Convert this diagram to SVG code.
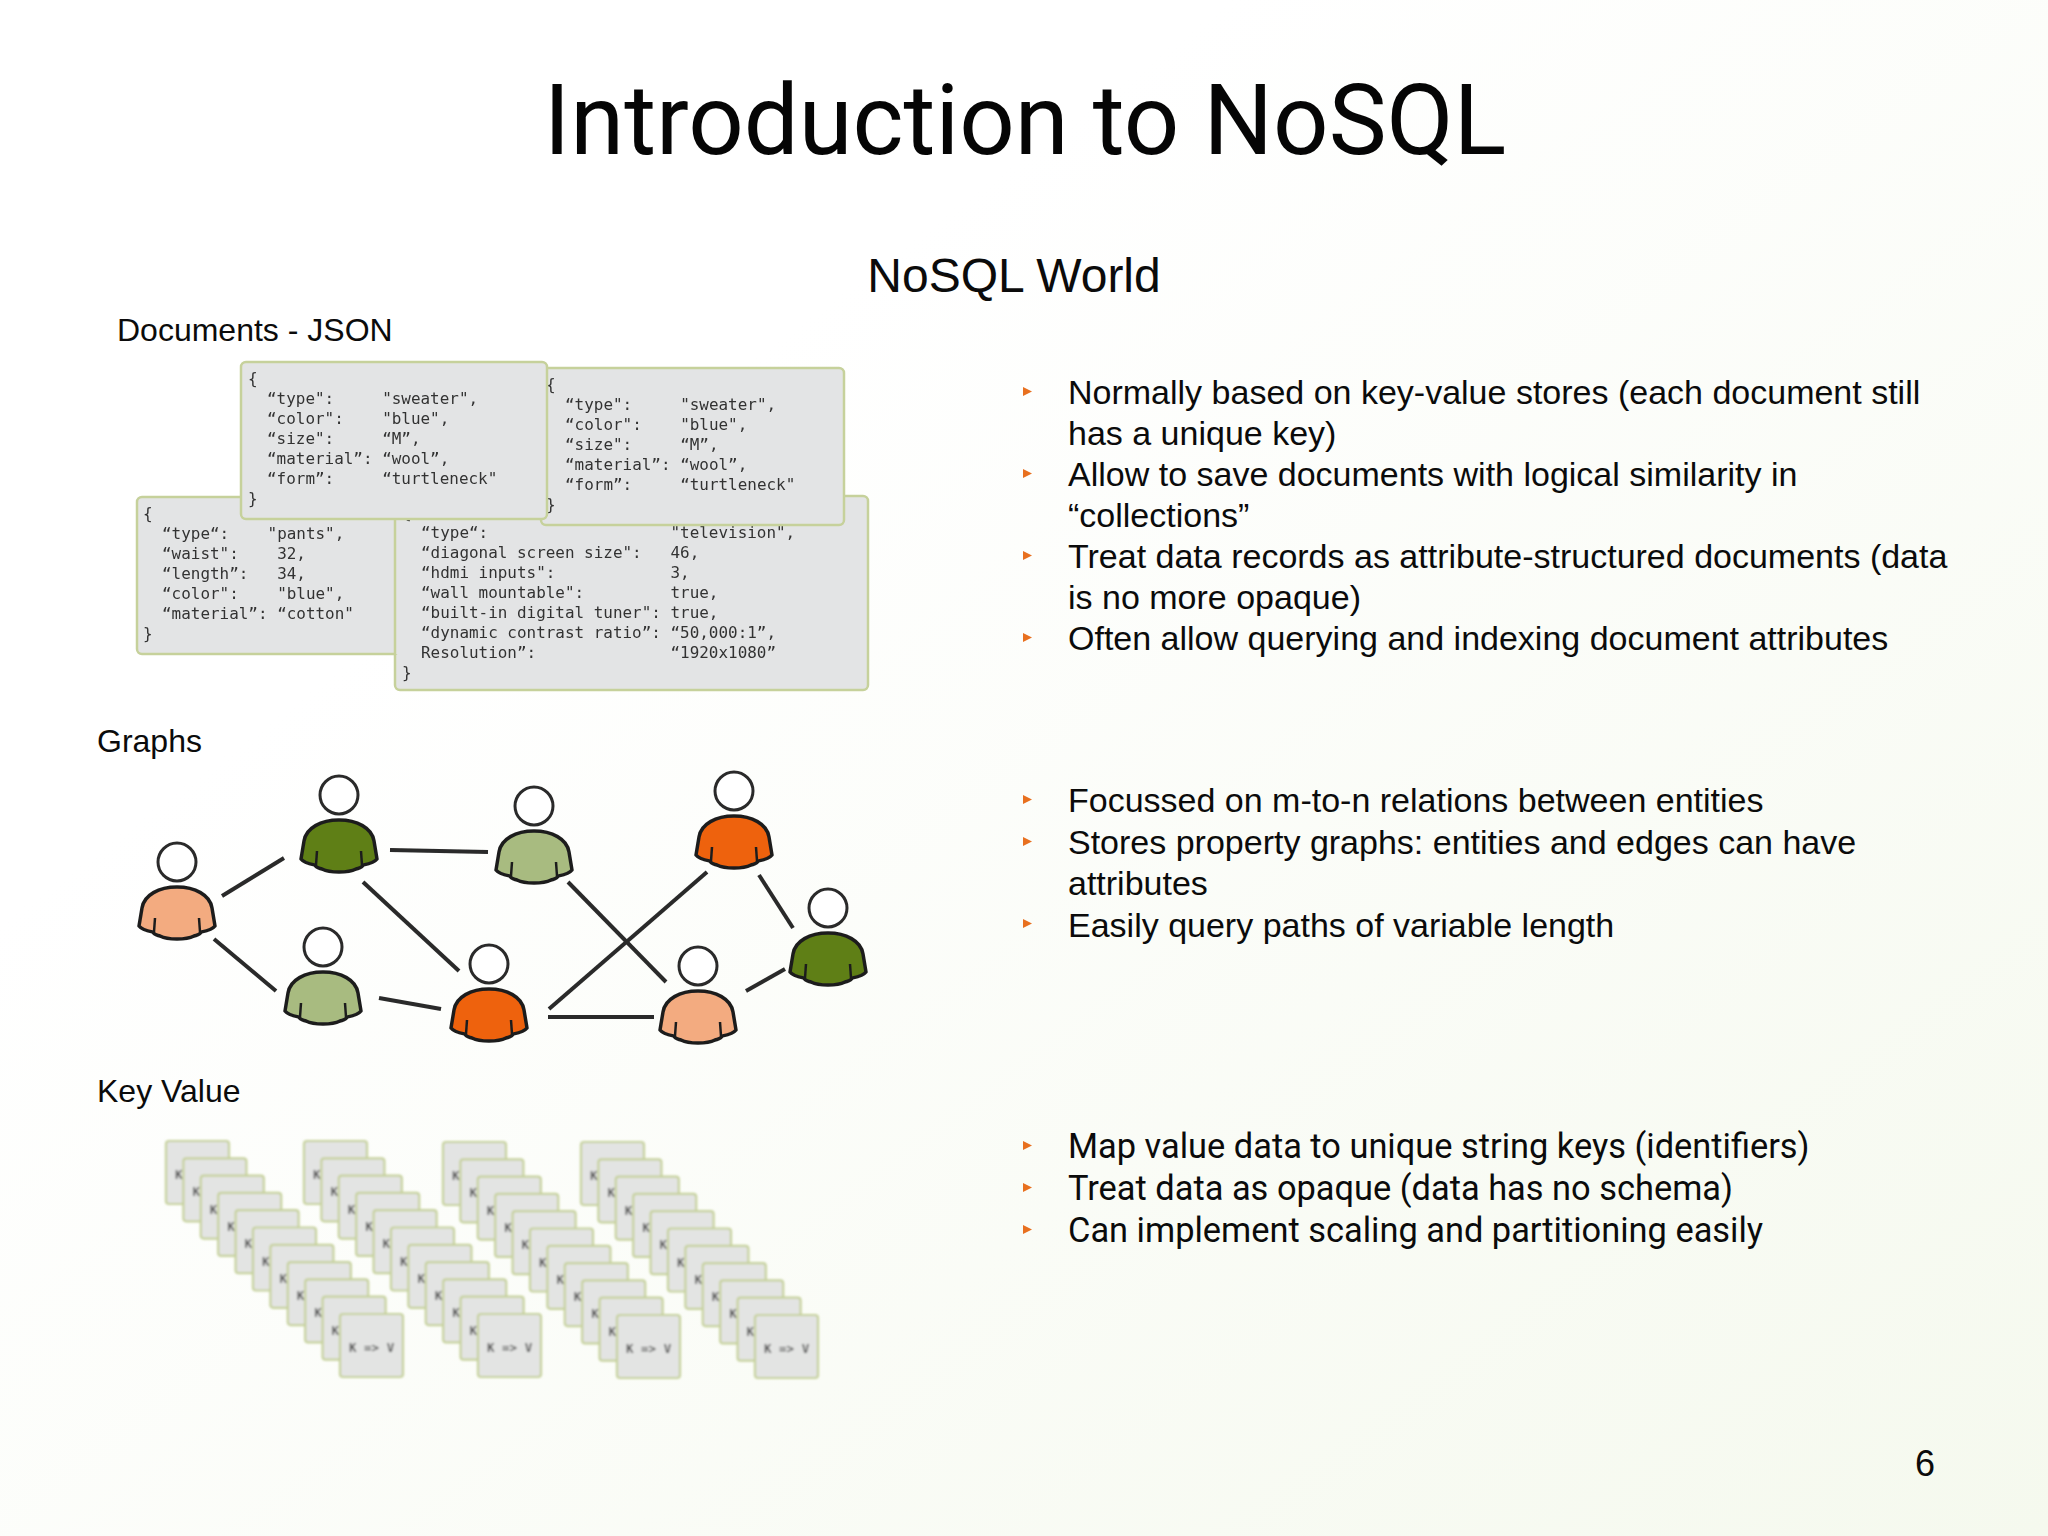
<svg xmlns="http://www.w3.org/2000/svg" width="2048" height="1536" viewBox="0 0 2048 1536">
<style>
.s{font-family:"Liberation Sans",Arial,sans-serif;fill:#0b0b0b}
.b{font-size:34px}
.r{font-family:Roboto,sans-serif;font-size:34.4px;fill:#0b0b0b}
.l{font-size:32px}
.m{font-family:"DejaVu Sans Mono","Liberation Mono",monospace;font-size:15.95px;fill:#333;white-space:pre}
.card{fill:#e3e4e5;stroke:#c6d19b;stroke-width:2.5}
.kv{fill:#e3e4e3;stroke:#c6d19b;stroke-width:2.2}
.kt{font-family:"DejaVu Sans Mono",monospace;font-size:12.5px;font-weight:bold;fill:#555;white-space:pre}
.bul{fill:#e8701f}
.hd{fill:#fff;stroke:#2b2b2b;stroke-width:3}
.sh{stroke:#1f1f1f;stroke-width:3.5;stroke-linejoin:round}
.fold{fill:none;stroke:#1f1f1f;stroke-width:2.5}
.dg{fill:#5f7f14}.lg{fill:#a8bb80}.or{fill:#ee620f}.pe{fill:#f3ab80}
#connectors line{stroke:#2a2a2a;stroke-width:4;stroke-linecap:butt}
</style>
<defs>
<linearGradient id="bg" x1="0" y1="0" x2="1" y2="1">
<stop offset="0.3" stop-color="#ffffff"/><stop offset="1" stop-color="#f5f9ee"/>
</linearGradient>
<filter id="soft" x="-5%" y="-5%" width="110%" height="110%"><feGaussianBlur stdDeviation="0.6"/></filter>
<filter id="softer" x="-5%" y="-5%" width="110%" height="110%"><feGaussianBlur stdDeviation="0.9"/></filter>
<path id="shirt" d="M-38,64C-37,58-36,52-35,46C-33,33-18,25 0,25C18,25 33,33 35,46C36,52 37,58 38,64C35,68 29,69 24,70C23,73 20,73 17,74C11,77 5,77 0,77C-5,77-11,77-17,74C-20,73-23,73-24,70C-29,69-35,68-38,64Z"/>
<path id="folds" d="M-23,70L-22,56M23,70L22,56"/>
<polygon id="tri" points="0,0 9,4.5 0,9"/>
<g id="kc"><rect class="kv" width="63" height="63" rx="3"/><text class="kt" x="9" y="38">K =&gt; V</text></g>
<g id="stack">
<use href="#kc" x="0" y="0"/><use href="#kc" x="17.4" y="17.3"/><use href="#kc" x="34.8" y="34.6"/><use href="#kc" x="52.2" y="51.9"/><use href="#kc" x="69.6" y="69.2"/><use href="#kc" x="87" y="86.5"/><use href="#kc" x="104.4" y="103.8"/><use href="#kc" x="121.8" y="121.1"/><use href="#kc" x="139.2" y="138.4"/><use href="#kc" x="156.6" y="155.7"/><use href="#kc" x="174" y="173"/>
</g>
</defs>
<rect width="2048" height="1536" fill="url(#bg)"/>
<text id="title" x="1025" y="154" text-anchor="middle" style="font-family:Roboto,sans-serif;font-size:97.5px;fill:#050505">Introduction to NoSQL</text>
<text id="subtitle" class="s" x="1014" y="292" text-anchor="middle" font-size="48">NoSQL World</text>
<text class="s l" x="117" y="341">Documents - JSON</text>
<text class="s l" x="97" y="752">Graphs</text>
<text class="s l" x="97" y="1102">Key Value</text>
<g id="documents" filter="url(#soft)">
<g id="doc-tv"><rect class="card" x="395" y="496" width="473" height="194" rx="5"/>
<text class="m" x="402" y="518">{</text>
<text class="m" x="421" y="538">“type“:                   "television",</text>
<text class="m" x="421" y="558">“diagonal screen size":   46,</text>
<text class="m" x="421" y="578">“hdmi inputs":            3,</text>
<text class="m" x="421" y="598">“wall mountable":         true,</text>
<text class="m" x="421" y="618">“built-in digital tuner": true,</text>
<text class="m" x="421" y="638">“dynamic contrast ratio”: “50,000:1”,</text>
<text class="m" x="421" y="658">Resolution”:              “1920x1080”</text>
<text class="m" x="402" y="678">}</text></g>
<g id="doc-pants"><rect class="card" x="137" y="497" width="262" height="157" rx="5"/>
<text class="m" x="143" y="519">{</text>
<text class="m" x="162" y="539">“type“:    "pants",</text>
<text class="m" x="162" y="559">“waist":    32,</text>
<text class="m" x="162" y="579">“length”:   34,</text>
<text class="m" x="162" y="599">“color":    "blue",</text>
<text class="m" x="162" y="619">“material”: “cotton"</text>
<text class="m" x="143" y="639">}</text></g>
<rect x="395" y="496" width="8" height="158" fill="#e3e4e5"/>
<line x1="395" y1="519" x2="395" y2="654" stroke="#c6d19b" stroke-width="2.5"/>
<g id="doc-sweater-2"><rect class="card" x="541" y="368" width="303" height="157" rx="5"/>
<text class="m" x="546" y="390">{</text>
<text class="m" x="565" y="410">“type":     "sweater",</text>
<text class="m" x="565" y="430">“color":    "blue",</text>
<text class="m" x="565" y="450">“size":     “M”,</text>
<text class="m" x="565" y="470">“material”: “wool”,</text>
<text class="m" x="565" y="490">“form”:     “turtleneck"</text>
<text class="m" x="546" y="510">}</text></g>
<g id="doc-sweater-1"><rect class="card" x="241" y="362" width="306" height="157" rx="5"/>
<text class="m" x="248" y="384">{</text>
<text class="m" x="267" y="404">“type":     "sweater",</text>
<text class="m" x="267" y="424">“color":    "blue",</text>
<text class="m" x="267" y="444">“size":     “M”,</text>
<text class="m" x="267" y="464">“material”: “wool”,</text>
<text class="m" x="267" y="484">“form”:     “turtleneck"</text>
<text class="m" x="248" y="504">}</text></g>
</g>
<g id="graph" filter="url(#soft)">
<g id="connectors">
<line x1="222" y1="896" x2="284" y2="858"/><line x1="390" y1="850" x2="488" y2="852"/><line x1="363" y1="882" x2="459" y2="971"/><line x1="214" y1="939" x2="276" y2="991"/><line x1="379" y1="998" x2="441" y2="1009"/><line x1="548" y1="1017" x2="654" y2="1017"/><line x1="549" y1="1009" x2="707" y2="872"/><line x1="568" y1="882" x2="666" y2="982"/><line x1="759" y1="875" x2="793" y2="928"/><line x1="746" y1="991" x2="785" y2="969"/>
</g>
<g id="person-1" transform="translate(177,862)"><use href="#shirt" class="sh pe"/><use href="#folds" class="fold"/><circle class="hd" r="19"/></g>
<g id="person-2" transform="translate(339,795)"><use href="#shirt" class="sh dg"/><use href="#folds" class="fold"/><circle class="hd" r="19"/></g>
<g id="person-3" transform="translate(534,806)"><use href="#shirt" class="sh lg"/><use href="#folds" class="fold"/><circle class="hd" r="19"/></g>
<g id="person-4" transform="translate(734,791)"><use href="#shirt" class="sh or"/><use href="#folds" class="fold"/><circle class="hd" r="19"/></g>
<g id="person-5" transform="translate(828,908)"><use href="#shirt" class="sh dg"/><use href="#folds" class="fold"/><circle class="hd" r="19"/></g>
<g id="person-6" transform="translate(698,966)"><use href="#shirt" class="sh pe"/><use href="#folds" class="fold"/><circle class="hd" r="19"/></g>
<g id="person-7" transform="translate(489,964)"><use href="#shirt" class="sh or"/><use href="#folds" class="fold"/><circle class="hd" r="19"/></g>
<g id="person-8" transform="translate(323,947)"><use href="#shirt" class="sh lg"/><use href="#folds" class="fold"/><circle class="hd" r="19"/></g>
</g>
<g id="key-value" filter="url(#softer)"><use href="#stack" x="166" y="1141"/><use href="#stack" x="304" y="1141"/><use href="#stack" x="443" y="1142"/><use href="#stack" x="581" y="1142"/></g>
<g id="bullets-docs">
<use href="#tri" class="bul" x="1023" y="387"/><use href="#tri" class="bul" x="1023" y="469"/><use href="#tri" class="bul" x="1023" y="551"/><use href="#tri" class="bul" x="1023" y="633"/>
<text class="s b" x="1068" y="404">Normally based on key-value stores (each document still</text>
<text class="s b" x="1068" y="445">has a unique key)</text>
<text class="s b" x="1068" y="486">Allow to save documents with logical similarity in</text>
<text class="s b" x="1068" y="527">“collections”</text>
<text class="s b" x="1068" y="568">Treat data records as attribute-structured documents (data</text>
<text class="s b" x="1068" y="609">is no more opaque)</text>
<text class="s b" x="1068" y="650">Often allow querying and indexing document attributes</text>
</g>
<g id="bullets-graphs">
<use href="#tri" class="bul" x="1023" y="795"/><use href="#tri" class="bul" x="1023" y="837"/><use href="#tri" class="bul" x="1023" y="919"/>
<text class="s b" x="1068" y="812">Focussed on m-to-n relations between entities</text>
<text class="s b" x="1068" y="854">Stores property graphs: entities and edges can have</text>
<text class="s b" x="1068" y="895">attributes</text>
<text class="s b" x="1068" y="937">Easily query paths of variable length</text>
</g>
<g id="bullets-kv">
<use href="#tri" class="bul" x="1023" y="1141"/><use href="#tri" class="bul" x="1023" y="1183"/><use href="#tri" class="bul" x="1023" y="1225"/>
<text class="r" x="1068" y="1158">Map value data to unique string keys (identifiers)</text>
<text class="r" x="1068" y="1200">Treat data as opaque (data has no schema)</text>
<text class="r" x="1068" y="1242">Can implement scaling and partitioning easily</text>
</g>
<text id="page" class="s" font-size="36" x="1915" y="1476">6</text>
</svg>
